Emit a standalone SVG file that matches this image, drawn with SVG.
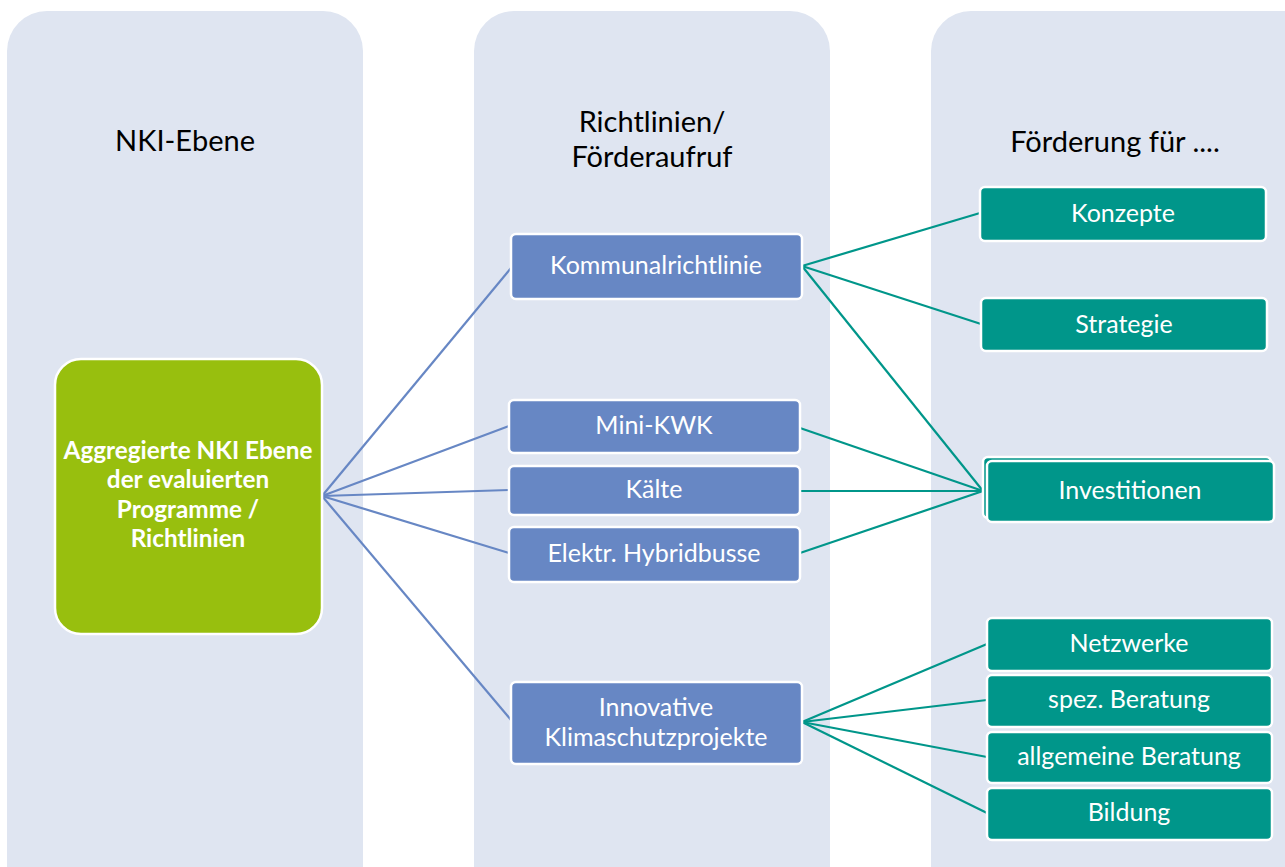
<svg xmlns="http://www.w3.org/2000/svg" width="1285" height="867" viewBox="0 0 1285 867">
  <style>
    .panel { fill: #DFE5F1; }
    .hdr { font-family: Lato, "Open Sans", sans-serif; font-size: 29px; fill: #000; text-anchor: middle; }
    .lbl { font-family: Lato, "Open Sans", sans-serif; font-size: 25px; fill: #fff; text-anchor: middle; }
    .bold { font-weight: bold; font-size: 24.3px; }
    .green { fill: #98BF0E; stroke: #fff; stroke-width: 2.5; }
    .blue { fill: #6787C4; stroke: #fff; stroke-width: 2.5; }
    .teal { fill: #00968A; stroke: #fff; stroke-width: 2.5; }
    .lb { stroke: #6787C4; stroke-width: 2.2; fill: none; }
    .lt { stroke: #00968A; stroke-width: 2.2; fill: none; }
  </style>

  <rect width="1285" height="867" fill="#fff"/>

  <!-- column backgrounds -->
  <g id="columns">
    <rect class="panel" x="7" y="11" width="356" height="900" rx="40"/>
    <rect class="panel" x="474" y="11" width="356" height="900" rx="40"/>
    <rect class="panel" x="931" y="11" width="400" height="900" rx="40"/>
    <text class="hdr" x="185" y="151">NKI-Ebene</text>
    <text class="hdr" x="652" y="132">Richtlinien/</text>
    <text class="hdr" x="652" y="167">Förderaufruf</text>
    <text class="hdr" x="1115" y="152">Förderung für ....</text>
  </g>

  <!-- connectors -->
  <g id="connectors">
    <line class="lb" x1="322" y1="496" x2="511" y2="268"/>
    <line class="lb" x1="322" y1="496" x2="509" y2="426"/>
    <line class="lb" x1="322" y1="496" x2="509" y2="490"/>
    <line class="lb" x1="322" y1="496" x2="509" y2="553"/>
    <line class="lb" x1="322" y1="496" x2="511" y2="720"/>

    <line class="lt" x1="802" y1="266" x2="980" y2="213"/>
    <line class="lt" x1="802" y1="266" x2="981" y2="324"/>
    <line class="lt" x1="802" y1="266" x2="983" y2="491"/>
    <line class="lt" x1="800" y1="428" x2="983" y2="491"/>
    <line class="lt" x1="800" y1="491" x2="983" y2="491"/>
    <line class="lt" x1="800" y1="553" x2="983" y2="491"/>

    <line class="lt" x1="802" y1="722" x2="987" y2="644"/>
    <line class="lt" x1="802" y1="722" x2="987" y2="700"/>
    <line class="lt" x1="802" y1="722" x2="987" y2="757"/>
    <line class="lt" x1="802" y1="722" x2="987" y2="813"/>
  </g>

  <!-- NKI level -->
  <g id="node-aggregiert">
    <rect class="green" x="55" y="359" width="267" height="275" rx="26"/>
    <text class="lbl bold" x="188" y="459">Aggregierte NKI Ebene</text>
    <text class="lbl bold" x="188" y="488">der evaluierten</text>
    <text class="lbl bold" x="188" y="518">Programme /</text>
    <text class="lbl bold" x="188" y="547">Richtlinien</text>
  </g>

  <!-- guidelines / calls -->
  <g id="node-kommunal">
    <rect class="blue" x="511" y="234" width="291" height="65" rx="5"/>
    <text class="lbl" x="656" y="274">Kommunalrichtlinie</text>
  </g>
  <g id="node-minikwk">
    <rect class="blue" x="509" y="400" width="291" height="53" rx="5"/>
    <text class="lbl" x="654" y="434">Mini-KWK</text>
  </g>
  <g id="node-kaelte">
    <rect class="blue" x="509" y="466" width="291" height="49" rx="5"/>
    <text class="lbl" x="654" y="498">Kälte</text>
  </g>
  <g id="node-hybridbusse">
    <rect class="blue" x="509" y="527" width="291" height="55" rx="5"/>
    <text class="lbl" x="654" y="562">Elektr. Hybridbusse</text>
  </g>
  <g id="node-innovativ">
    <rect class="blue" x="511" y="682" width="291" height="82" rx="5"/>
    <text class="lbl" x="656" y="716">Innovative</text>
    <text class="lbl" x="656" y="746">Klimaschutzprojekte</text>
  </g>

  <!-- funding targets -->
  <g id="node-konzepte">
    <rect class="teal" x="980" y="187" width="286" height="54" rx="5"/>
    <text class="lbl" x="1123" y="222">Konzepte</text>
  </g>
  <g id="node-strategie">
    <rect class="teal" x="981" y="298" width="286" height="53" rx="5"/>
    <text class="lbl" x="1124" y="333">Strategie</text>
  </g>
  <g id="node-investitionen">
    <rect class="teal" x="983" y="457" width="288" height="61" rx="5"/>
    <rect class="teal" x="987" y="461" width="287" height="61" rx="5"/>
    <text class="lbl" x="1130" y="499">Investitionen</text>
  </g>
  <g id="node-netzwerke">
    <rect class="teal" x="987" y="618" width="285" height="53" rx="5"/>
    <text class="lbl" x="1129" y="652">Netzwerke</text>
  </g>
  <g id="node-spez">
    <rect class="teal" x="987" y="675" width="285" height="52" rx="5"/>
    <text class="lbl" x="1129" y="708">spez. Beratung</text>
  </g>
  <g id="node-allgemein">
    <rect class="teal" x="987" y="732" width="285" height="51" rx="5"/>
    <text class="lbl" x="1129" y="765">allgemeine Beratung</text>
  </g>
  <g id="node-bildung">
    <rect class="teal" x="987" y="788" width="285" height="52" rx="5"/>
    <text class="lbl" x="1129" y="821">Bildung</text>
  </g>
</svg>
